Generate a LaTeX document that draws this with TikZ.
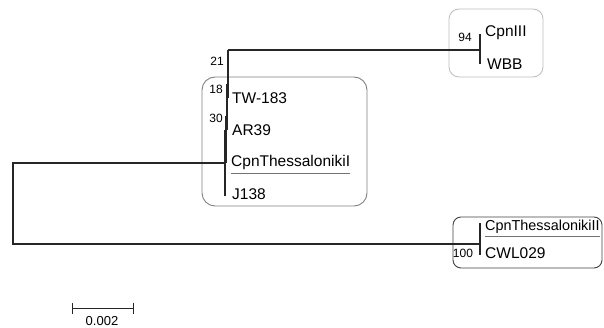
\documentclass[tikz,border=0pt]{standalone}
\usepackage{fontspec}
\setmainfont{Liberation Sans}
\usetikzlibrary{arrows.meta}
\tikzset{
  branch/.style={draw=black!85,line width=1.2pt},
  leaf/.style={anchor=west,inner sep=0pt,font=\fontsize{15.5}{17}\selectfont},
  boot/.style={inner sep=0pt,font=\fontsize{12}{14}\selectfont},
  uline/.style={draw=black!55,line width=0.9pt},
  cladebox/.style={rounded corners=13pt,line width=0.9pt}
}

\begin{document}
\begin{tikzpicture}[x=1pt,y=-1pt]
        \useasboundingbox (0,0) rectangle (604,328);
        % clade boxes
        \draw[cladebox,draw=black!50] (202,77) rectangle (367,206);
        \draw[cladebox,draw=black!25,rounded corners=10pt] (449,9) rectangle (543,77);
        \draw[cladebox,draw=black!75,rounded corners=8pt] (453,217) rectangle (602,268);

        % leaves
        \node[leaf] (cpnIII) at (485,33) {CpnIII};
        \node[leaf] (wbb) at (487,64) {WBB};
        \node[leaf] (tw) at (232,98) {TW-183};
        \node[leaf] (ar) at (232,130) {AR39};
        \node[leaf] (cpnI) at (231,162) {CpnThessalonikiI};
        \node[leaf] (j) at (232,194) {J138};
        \node[leaf,font=\fontsize{14.4}{16}\selectfont] (cpnII) at (485,227) {CpnThessalonikiII};
        \node[leaf] (cwl) at (485,253) {CWL029};
        \draw[uline] ([yshift=-4pt]cpnI.south west) -- ([yshift=-4pt]cpnI.south east);
        \draw[uline] ([yshift=-3pt]cpnII.south west) -- ([yshift=-3pt]cpnII.south east);

        % internal nodes
        \coordinate (root) at (13,203);
        \coordinate (ing) at (225,163);
        \coordinate (out) at (480,244);
        \coordinate (n21) at (228,50);
        \coordinate (n18) at (227,84);
        \coordinate (n30) at (226,116);
        \coordinate (nIII) at (480,50);

        % branches
        \draw[branch] (ing) -| (root) |- (out);
        \draw[branch] ([yshift=4pt]out |- cpnII) -- ([yshift=-2pt]out |- cwl);
        \draw[branch] (n21) -- (nIII);
        \draw[branch] ([yshift=-1pt]nIII |- cpnIII) -- (nIII |- wbb);
        \draw[branch] (n21) -- (n21 |- tw);
        \draw[branch] (n18) -- (n18 |- ar);
        \draw[branch] (n30) -- (n30 |- ing);
        \draw[branch] (ing |- ar) -- ([yshift=-2pt]ing |- j);

        % bootstrap values
        \node[boot] at (217,61) {21};
        \node[boot] at (216,89) {18};
        \node[boot] at (216,118) {30};
        \node[boot] at (465,37) {94};
        \node[boot] at (463,253) {100};

        % scale bar
        \coordinate (sbL) at (72,308);
        \coordinate (sbR) at (134,308);
        \draw[branch,line width=1pt,{Bar[width=11pt]}-{Bar[width=11pt]}] (sbL) -- (sbR);
        \node[boot,font=\fontsize{13}{15}\selectfont] (sblab) at (102,321) {0.002};
      \end{tikzpicture}
\end{document}
